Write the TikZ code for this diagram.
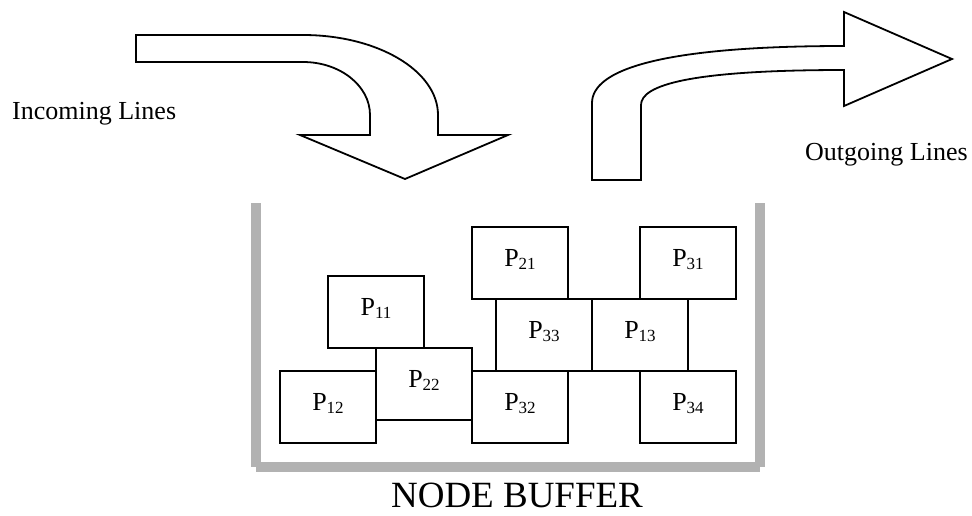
\documentclass[tikz,border=0pt]{standalone}
\usepackage{fontspec}
\setmainfont{Liberation Serif}

\definecolor{bufgray}{RGB}{178,178,178}
\newcommand{\pk}[1]{P\raisebox{-3pt}{\fontsize{17}{17}\selectfont #1}}

\tikzset{
	pkt/.style={draw, line width=1.8pt, minimum width=96pt, minimum height=72pt,
		inner sep=0pt, text height=14pt, text depth=7pt, font=\fontsize{26}{30}\selectfont},
	wall/.style={bufgray, line width=10pt},
	bigarrow/.style={draw, line width=1.8pt, line join=miter},
	lbl/.style={inner sep=0pt, font=\fontsize{26}{30}\selectfont}
}

\begin{document}
\begin{tikzpicture}[x=1pt, y=-1pt]
	
			\useasboundingbox (0,0) rectangle (972,515);

			% Входящая стрелка
			\draw[bigarrow] (136,35) -- (303,35) .. controls (377.6,35) and (438,70.8) .. (438,115)
				-- (438,135) -- (508,135) -- (405,179) -- (300,135) -- (370,135) -- (370,115)
				.. controls (370,85.7) and (340,62) .. (303,62) -- (136,62) -- cycle;
			\node[lbl, anchor=base west] (inlines) at (12,119) {Incoming Lines};

			% Исходящая стрелка
			\draw[bigarrow] (592,180) -- (592,103) .. controls (592,70) and (660,46) .. (844,46)
				-- (844,12) -- (952,59) -- (844,106) -- (844,70)
				.. controls (690,70) and (641,85) .. (641,105) -- (641,180) -- cycle;
			\node[lbl, anchor=base west] (outlines) at (805,160) {Outgoing Lines};

			% Буфер узла
			\draw[wall] (256,203) -- (256,467);
			\draw[wall] (760,203) -- (760,467);
			\draw[wall] (256,467) -- (760,467);
			\node[inner sep=0pt, anchor=base, font=\fontsize{37}{40}\selectfont] (buffer) at (517,507) {NODE BUFFER};

			% Пакеты в буфере
			\node[pkt] (p21) at (520,263) {\pk{21}};
			\node[pkt] (p31) at (688,263) {\pk{31}};
			\node[pkt] (p11) at (376,312) {\pk{11}};
			\node[pkt] (p33) at (544,335) {\pk{33}};
			\node[pkt] (p13) at (640,335) {\pk{13}};
			\node[pkt] (p22) at (424,384) {\pk{22}};
			\node[pkt] (p12) at (328,407) {\pk{12}};
			\node[pkt] (p32) at (520,407) {\pk{32}};
			\node[pkt] (p34) at (688,407) {\pk{34}};
	
		\end{tikzpicture}
\end{document}
